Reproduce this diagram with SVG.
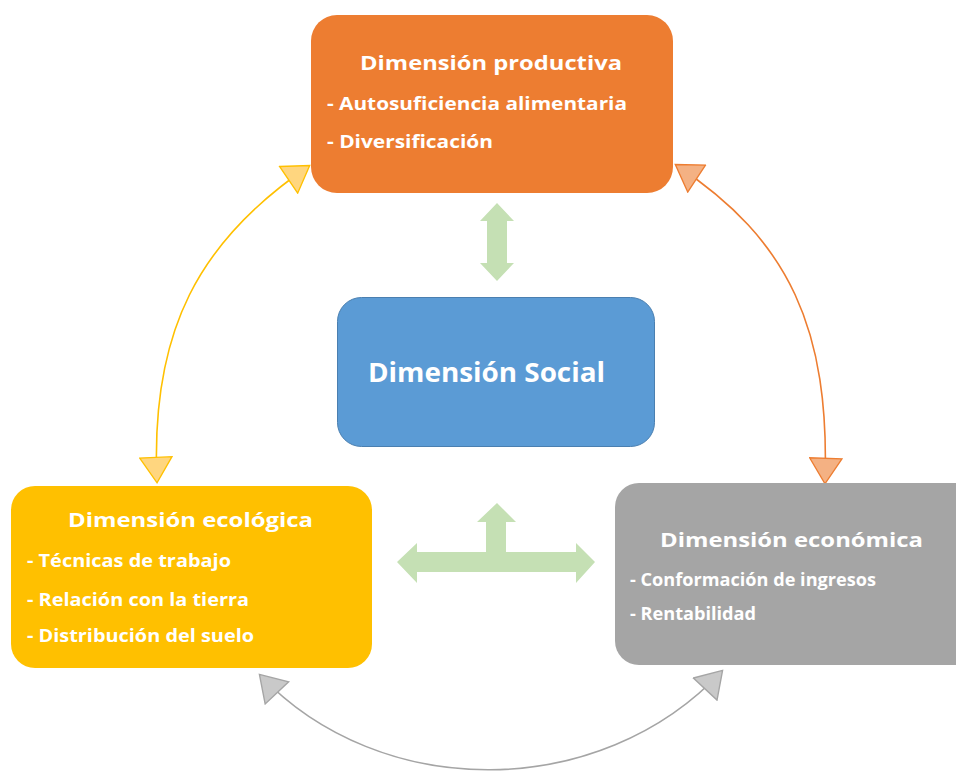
<svg xmlns="http://www.w3.org/2000/svg" width="956" height="774" viewBox="0 0 956 774">
<style>
.t{font-family:"Open Sans","Liberation Sans",sans-serif;font-weight:700;fill:#ffffff}
.title{font-size:20px}
.item{font-size:17px}
.big{font-size:26px}
.green{fill:#C5E0B4}
.arc{fill:none;stroke-width:1.6}
</style>
<defs>
<marker id="hy" viewBox="0 0 20 20" refX="18.5" refY="10" markerWidth="34" markerHeight="34" markerUnits="userSpaceOnUse" orient="auto-start-reverse">
<path d="M4,0.5 L19,10 L4,19.5 Z" fill="#FFD67F" stroke="#FFC000" stroke-width="0.8"/>
</marker>
<marker id="ho" viewBox="0 0 20 20" refX="18.5" refY="10" markerWidth="34" markerHeight="34" markerUnits="userSpaceOnUse" orient="auto-start-reverse">
<path d="M4,0.5 L19,10 L4,19.5 Z" fill="#F4B183" stroke="#ED7D31" stroke-width="0.8"/>
</marker>
<marker id="hg" viewBox="0 0 20 20" refX="18.5" refY="10" markerWidth="34" markerHeight="34" markerUnits="userSpaceOnUse" orient="auto-start-reverse">
<path d="M4,0.5 L19,10 L4,19.5 Z" fill="#C9C9C9" stroke="#A5A5A5" stroke-width="0.8"/>
</marker>
</defs>
<rect width="956" height="774" fill="#ffffff"/>
<g id="connectors">
<path class="arc" d="M157 482 C150 330 200 240 309 166" stroke="#FFC000" marker-start="url(#hy)" marker-end="url(#hy)"/>
<path class="arc" d="M676 165 C790 240 830 330 825 483" stroke="#ED7D31" marker-start="url(#ho)" marker-end="url(#ho)"/>
<path class="arc" d="M260 675 C380 802 600 802 722 671" stroke="#A5A5A5" marker-start="url(#hg)" marker-end="url(#hg)"/>
<polygon class="green" points="497,203 514,221 507,221 507,263 514,263 497,281 480,263 487,263 487,221 480,221"/>
<polygon class="green" points="497,503 516,522 506,522 506,552 576,552 576,543 595,562 576,583 576,572 417,572 417,583 397,562 417,543 417,552 486,552 486,522 477,522"/>
</g>
<g id="productiva">
<rect x="311" y="15" width="362" height="178" rx="26" fill="#ED7D31"/>
<text class="t title" x="360" y="70" textLength="262" lengthAdjust="spacingAndGlyphs">Dimensión productiva</text>
<text class="t item" x="327" y="110" textLength="300" lengthAdjust="spacingAndGlyphs">- Autosuficiencia alimentaria</text>
<text class="t item" x="327" y="148" textLength="166" lengthAdjust="spacingAndGlyphs">- Diversificación</text>
</g>
<g id="social">
<rect x="337.5" y="297.5" width="317" height="149" rx="24" fill="#5B9BD5" stroke="#4A7FB0" stroke-width="1"/>
<text class="t big" x="368" y="382" textLength="237" lengthAdjust="spacingAndGlyphs">Dimensión Social</text>
</g>
<g id="ecologica">
<rect x="11" y="486" width="361" height="182" rx="24" fill="#FFC000"/>
<text class="t title" x="68" y="527" textLength="245" lengthAdjust="spacingAndGlyphs">Dimensión ecológica</text>
<text class="t item" x="27" y="567" textLength="204" lengthAdjust="spacingAndGlyphs">- Técnicas de trabajo</text>
<text class="t item" x="27" y="606" textLength="222" lengthAdjust="spacingAndGlyphs">- Relación con la tierra</text>
<text class="t item" x="27" y="642" textLength="227" lengthAdjust="spacingAndGlyphs">- Distribución del suelo</text>
</g>
<g id="economica">
<rect x="615" y="483" width="370" height="182" rx="24" fill="#A5A5A5"/>
<text class="t title" x="660" y="547" textLength="263" lengthAdjust="spacingAndGlyphs">Dimensión económica</text>
<text class="t item" x="630" y="586" font-size="16" textLength="246" lengthAdjust="spacingAndGlyphs">- Conformación de ingresos</text>
<text class="t item" x="630" y="620" font-size="16" textLength="126" lengthAdjust="spacingAndGlyphs">- Rentabilidad</text>
</g>
</svg>
